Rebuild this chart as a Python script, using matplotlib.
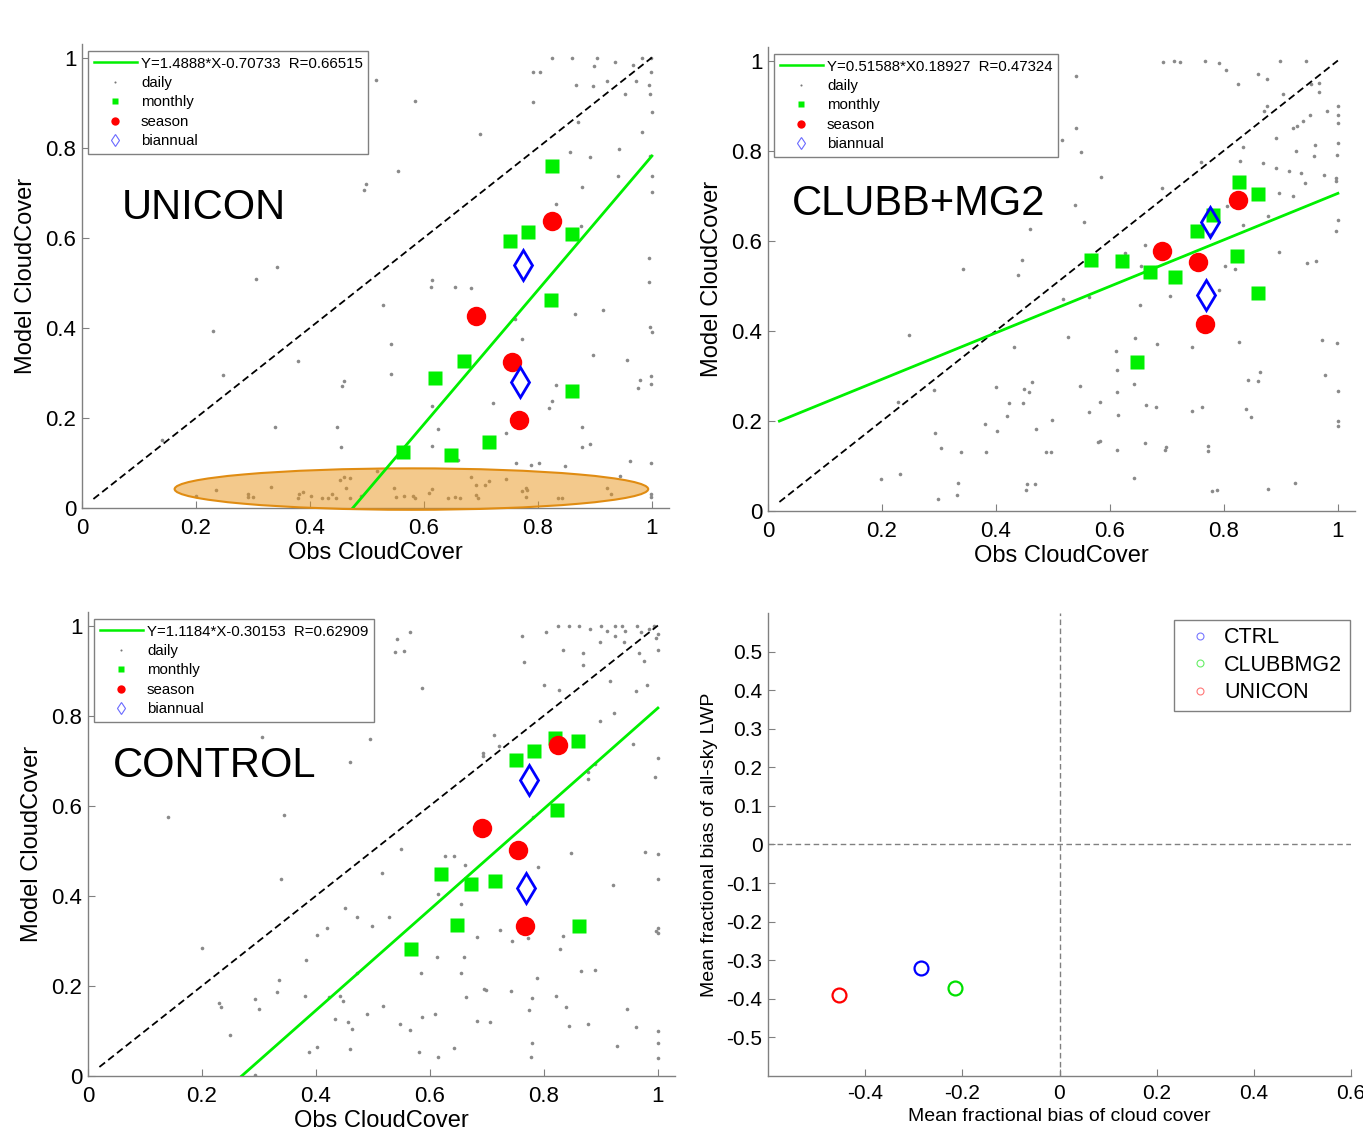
import numpy as np
import matplotlib.pyplot as plt
from matplotlib.lines import Line2D
from matplotlib.patches import Ellipse

plt.rcParams['font.family'] = ['Liberation Sans', 'DejaVu Sans']
plt.rcParams['axes.unicode_minus'] = False

LIME = '#00f000'

# ---------------- UNICON ----------------
uni_daily = [
    (0.825, 0.998), (0.86, 0.998), (0.903, 0.998), (0.935, 0.989), (0.967, 0.983), (0.982, 0.998), (0.999, 0.998),
    (0.791, 0.967), (0.804, 0.967), (0.899, 0.981), (0.999, 0.967), (0.515, 0.950), (0.867, 0.939), (0.897, 0.937),
    (0.921, 0.947), (0.972, 0.947), (0.995, 0.939), (0.953, 0.919), (0.997, 0.918), (0.585, 0.904), (0.791, 0.901),
    (1.0, 0.878), (0.871, 0.856), (0.699, 0.830), (0.982, 0.835), (0.857, 0.790), (0.891, 0.779), (0.943, 0.798),
    (0.997, 0.781), (0.555, 0.748), (0.941, 0.736), (1.0, 0.737), (0.499, 0.719), (0.494, 0.707), (0.877, 0.713),
    (1.0, 0.701), (0.832, 0.674), (0.875, 0.626), (0.995, 0.556), (0.342, 0.536), (0.305, 0.509), (0.995, 0.501),
    (0.614, 0.506), (0.613, 0.490), (0.654, 0.490), (0.683, 0.489), (0.529, 0.450), (0.865, 0.430), (0.914, 0.439),
    (0.759, 0.419), (0.229, 0.393), (0.997, 0.402), (1.0, 0.390), (0.772, 0.376), (0.542, 0.364), (0.379, 0.326),
    (0.897, 0.339), (0.957, 0.328), (0.247, 0.296), (0.542, 0.298), (0.459, 0.283), (0.456, 0.270), (0.999, 0.293),
    (0.999, 0.276), (0.979, 0.285), (0.975, 0.267), (0.832, 0.274), (0.722, 0.233), (0.825, 0.237), (0.820, 0.222),
    (0.614, 0.226), (0.744, 0.167), (0.877, 0.179), (0.625, 0.176), (0.339, 0.180), (0.447, 0.179), (0.141, 0.152),
    (0.454, 0.136), (0.614, 0.137), (0.877, 0.136), (0.891, 0.141), (0.761, 0.101), (0.787, 0.096), (0.802, 0.099),
    (0.847, 0.093), (0.962, 0.104), (0.999, 0.101), (0.944, 0.070), (0.660, 0.106),
    # 椭圆内的点
    (0.200, 0.026), (0.235, 0.039), (0.291, 0.030), (0.291, 0.024), (0.300, 0.024), (0.332, 0.046), (0.381, 0.031),
    (0.387, 0.036), (0.379, 0.022), (0.402, 0.026), (0.421, 0.022), (0.431, 0.022), (0.439, 0.032), (0.445, 0.022),
    (0.452, 0.063), (0.460, 0.068), (0.470, 0.067), (0.463, 0.044), (0.471, 0.022), (0.489, 0.026), (0.518, 0.083),
    (0.547, 0.044), (0.551, 0.024), (0.565, 0.027), (0.580, 0.026), (0.585, 0.022), (0.609, 0.033), (0.615, 0.042),
    (0.643, 0.022), (0.654, 0.024), (0.663, 0.022), (0.682, 0.068), (0.692, 0.052), (0.707, 0.050), (0.714, 0.061),
    (0.692, 0.028), (0.694, 0.022), (0.744, 0.064), (0.772, 0.037), (0.779, 0.044), (0.780, 0.039), (0.779, 0.024),
    (0.836, 0.022), (0.842, 0.022), (0.922, 0.044), (0.929, 0.030), (0.999, 0.031), (0.999, 0.024),
]
uni_monthly = [(0.825, 0.759), (0.782, 0.613), (0.751, 0.592), (0.859, 0.608), (0.823, 0.461), (0.671, 0.327),
               (0.620, 0.289), (0.860, 0.259), (0.564, 0.125), (0.647, 0.118), (0.715, 0.147)]
uni_season = [(0.825, 0.637), (0.691, 0.426), (0.755, 0.324), (0.766, 0.196)]
uni_biannual = [(0.774, 0.539), (0.768, 0.279)]
uni_fit = (1.4888, -0.70733)
uni_fit_label = 'Y=1.4888*X-0.70733  R=0.66515'

# ---------------- CLUBB+MG2 ----------------
clubb_daily = [
    (0.693, 0.996), (0.712, 0.999), (0.723, 0.996), (0.767, 0.999), (0.792, 0.995), (0.804, 0.978), (0.899, 0.999),
    (0.944, 0.999), (0.541, 0.965), (0.860, 0.971), (0.876, 0.959), (0.825, 0.947), (0.904, 0.926), (0.952, 0.948),
    (0.967, 0.950), (0.966, 0.929), (0.876, 0.900), (0.871, 0.887), (0.980, 0.889), (1.0, 0.900), (1.0, 0.878),
    (0.951, 0.878), (0.939, 0.866), (0.929, 0.855), (0.921, 0.850), (1.0, 0.861), (0.541, 0.851), (0.891, 0.829),
    (0.515, 0.824), (0.833, 0.808), (1.0, 0.818), (0.960, 0.813), (0.926, 0.800), (0.999, 0.791), (0.958, 0.787),
    (0.550, 0.797), (0.828, 0.778), (0.868, 0.772), (0.759, 0.774), (0.891, 0.762), (0.914, 0.755), (0.936, 0.751),
    (0.975, 0.746), (0.997, 0.740), (0.997, 0.733), (0.585, 0.741), (0.691, 0.716), (0.942, 0.728), (0.897, 0.707),
    (0.922, 0.699), (0.538, 0.679), (0.806, 0.677), (0.878, 0.655), (1.0, 0.647), (0.997, 0.622), (0.555, 0.642),
    (0.833, 0.635), (0.459, 0.627), (0.777, 0.615), (0.896, 0.575), (0.661, 0.590), (0.626, 0.572), (0.445, 0.558),
    (0.342, 0.538), (0.438, 0.523), (0.654, 0.544), (0.802, 0.544), (0.820, 0.537), (0.946, 0.551), (0.962, 0.555),
    (0.792, 0.491), (0.517, 0.471), (0.564, 0.474), (0.706, 0.477), (0.653, 0.458), (0.248, 0.391), (0.527, 0.386),
    (0.431, 0.365), (0.644, 0.384), (0.683, 0.371), (0.744, 0.365), (0.826, 0.375), (0.972, 0.380), (0.999, 0.373),
    (0.610, 0.356), (0.613, 0.314), (0.643, 0.281), (0.463, 0.286), (0.450, 0.271), (0.458, 0.265), (0.400, 0.275),
    (0.547, 0.277), (0.612, 0.265), (0.843, 0.291), (0.859, 0.288), (0.864, 0.308), (0.978, 0.301), (1.0, 0.267),
    (0.291, 0.269), (0.228, 0.243), (0.423, 0.240), (0.447, 0.240), (0.583, 0.243), (0.663, 0.236), (0.681, 0.230),
    (0.744, 0.223), (0.762, 0.230), (0.838, 0.226), (0.848, 0.208), (0.564, 0.219), (0.614, 0.213), (0.420, 0.210),
    (0.498, 0.203), (1.0, 0.200), (1.0, 0.189), (0.380, 0.193), (0.293, 0.174), (0.402, 0.177), (0.470, 0.182),
    (0.579, 0.154), (0.583, 0.156), (0.661, 0.152), (0.698, 0.141), (0.696, 0.136), (0.772, 0.145), (0.772, 0.134),
    (0.304, 0.140), (0.339, 0.130), (0.382, 0.130), (0.488, 0.132), (0.496, 0.132), (0.613, 0.136), (0.199, 0.071),
    (0.232, 0.082), (0.334, 0.062), (0.455, 0.061), (0.469, 0.059), (0.642, 0.074), (0.878, 0.048), (0.924, 0.062),
    (0.779, 0.045), (0.787, 0.047), (0.453, 0.046), (0.331, 0.036), (0.298, 0.026),
]
clubb_monthly = [(0.826, 0.730), (0.859, 0.703), (0.780, 0.656), (0.752, 0.621), (0.567, 0.558), (0.621, 0.555),
                 (0.671, 0.531), (0.715, 0.520), (0.823, 0.567), (0.860, 0.483), (0.647, 0.330)]
clubb_season = [(0.825, 0.690), (0.691, 0.578), (0.755, 0.553), (0.766, 0.416)]
clubb_biannual = [(0.775, 0.642), (0.769, 0.480)]
clubb_fit = (0.51588, 0.18927)
clubb_fit_label = 'Y=0.51588*X0.18927  R=0.47324'

# ---------------- CONTROL ----------------
ctrl_daily = [
    (0.825, 1.0), (0.844, 1.0), (0.861, 1.0), (0.901, 1.0), (0.924, 1.0), (0.937, 1.0), (0.964, 1.0), (0.984, 0.992),
    (0.993, 1.0), (0.804, 0.986), (0.761, 0.977), (0.881, 0.992), (0.910, 0.987), (0.942, 0.987), (0.924, 0.977),
    (0.970, 0.986), (0.997, 0.973), (1.0, 0.982), (0.565, 0.986), (0.542, 0.970), (0.539, 0.941), (0.555, 0.943),
    (0.898, 0.964), (0.940, 0.964), (0.833, 0.945), (0.868, 0.939), (0.967, 0.939), (1.0, 0.945), (0.975, 0.921),
    (0.765, 0.919), (0.869, 0.912), (0.980, 0.868), (0.916, 0.876), (0.800, 0.867), (0.827, 0.857), (0.962, 0.854),
    (0.586, 0.862), (0.923, 0.806), (0.898, 0.789), (0.712, 0.758), (0.722, 0.733), (0.693, 0.718), (0.693, 0.711),
    (0.306, 0.752), (0.495, 0.748), (0.957, 0.737), (1.0, 0.707), (0.890, 0.692), (0.877, 0.674), (0.877, 0.659),
    (0.995, 0.664), (0.460, 0.698), (0.141, 0.575), (0.344, 0.580), (0.780, 0.574), (0.550, 0.503), (0.626, 0.488),
    (0.643, 0.488), (0.662, 0.468), (0.790, 0.464), (0.847, 0.496), (0.977, 0.498), (1.0, 0.492), (1.0, 0.438),
    (0.922, 0.423), (0.515, 0.451), (0.339, 0.438), (0.614, 0.404), (0.655, 0.382), (0.451, 0.374), (0.472, 0.354),
    (0.528, 0.352), (0.499, 0.332), (0.420, 0.328), (0.401, 0.312), (0.723, 0.323), (0.683, 0.308), (0.744, 0.300),
    (0.772, 0.306), (0.833, 0.310), (0.829, 0.282), (1.0, 0.328), (0.997, 0.321), (1.0, 0.317), (0.200, 0.285),
    (0.382, 0.258), (0.613, 0.265), (0.660, 0.264), (0.584, 0.228), (0.655, 0.228), (0.788, 0.217), (0.865, 0.232),
    (0.890, 0.236), (0.472, 0.228), (0.335, 0.212), (0.332, 0.186), (0.695, 0.193), (0.699, 0.191), (0.743, 0.189),
    (0.779, 0.174), (0.821, 0.178), (0.664, 0.175), (0.380, 0.178), (0.443, 0.178), (0.447, 0.166), (0.423, 0.175),
    (0.293, 0.170), (0.300, 0.149), (0.230, 0.163), (0.234, 0.154), (0.518, 0.155), (0.774, 0.146), (0.839, 0.154),
    (0.945, 0.148), (0.433, 0.126), (0.457, 0.119), (0.489, 0.137), (0.609, 0.137), (0.586, 0.130), (0.548, 0.115),
    (0.565, 0.102), (0.463, 0.104), (0.682, 0.122), (0.706, 0.120), (0.844, 0.111), (0.877, 0.115), (0.962, 0.109),
    (1.0, 0.100), (0.249, 0.091), (0.779, 0.074), (1.0, 0.074), (0.929, 0.066), (0.388, 0.053), (0.402, 0.065),
    (0.460, 0.059), (0.580, 0.053), (0.615, 0.042), (0.642, 0.063), (0.778, 0.042), (1.0, 0.039), (0.293, 0.002),
]
ctrl_monthly = [(0.860, 0.743), (0.782, 0.721), (0.751, 0.702), (0.823, 0.590), (0.620, 0.449), (0.672, 0.427),
                (0.715, 0.432), (0.647, 0.336), (0.861, 0.334), (0.567, 0.282), (0.820, 0.750)]
ctrl_season = [(0.825, 0.735), (0.691, 0.550), (0.755, 0.501), (0.766, 0.334)]
ctrl_biannual = [(0.774, 0.657), (0.768, 0.418)]
ctrl_fit = (1.1184, -0.30153)
ctrl_fit_label = 'Y=1.1184*X-0.30153  R=0.62909'

# ---------------- 偏差散点 ----------------
bias_names = ['CTRL', 'CLUBBMG2', 'UNICON']
bias_cloud = [-0.286, -0.215, -0.454]
bias_lwp = [-0.321, -0.373, -0.391]
bias_colors = ['#0000ff', '#00e000', '#ff0000']
bias_legend_colors = ['#7777ff', '#66ee66', '#ff7777']

W, H = 1363, 1134
fig = plt.figure(figsize=(W / 100, H / 100), dpi=100)
fig.patch.set_facecolor('white')


def px_axes(left, top, right, bottom):
    return fig.add_axes([left / W, 1 - bottom / H, (right - left) / W, (bottom - top) / H])


def style_axes(ax, tick_size, xpad=7.5):
    for s in ['top', 'right']:
        ax.spines[s].set_visible(False)
    for s in ['left', 'bottom']:
        ax.spines[s].set_color('#808080')
        ax.spines[s].set_linewidth(1.0)
    ax.tick_params(direction='in', length=5, width=0.8, color='#808080',
                   labelsize=tick_size, labelcolor='black', pad=4)
    ax.tick_params(axis='x', pad=xpad)


def draw_cloud_panel(ax, daily, monthly, season, biannual, fit, fit_label, name, name_pos, ellipse=False):
    d = np.array(daily).T
    m = np.array(monthly).T
    s = np.array(season).T
    b = np.array(biannual).T

    ax.plot(d[0], d[1], ls='none', marker='o', ms=2.6, color='#8a8a8a', mec='none', zorder=2)
    ax.plot([0.02, 1], [0.02, 1], color='black', lw=1.3, ls=(0, (4, 2.2)), zorder=3)
    xl = np.array([0.02, 1.0])
    ax.plot(xl, fit[0] * xl + fit[1], color=LIME, lw=2.0, zorder=5)
    if ellipse:
        e = Ellipse((0.578, 0.042), 0.831, 0.092, facecolor=(0.91, 0.58, 0.10, 0.5),
                    edgecolor='#e08c12', lw=1.5, zorder=4, clip_on=False)
        ax.add_patch(e)
    ax.plot(m[0], m[1], ls='none', marker='s', ms=9.5, color=LIME, mec='none', zorder=6)
    ax.plot(s[0], s[1], ls='none', marker='o', ms=14, color='#ff0000', mec='none', zorder=7)
    ax.plot(b[0], b[1], ls='none', marker='d', ms=15, mfc='none', mec='#0000ff', mew=2.0, zorder=8)

    ax.set_xlim(0, 1.03)
    ax.set_ylim(0, 1.03)
    ticks = [0, 0.2, 0.4, 0.6, 0.8, 1.0]
    tlabels = ['0', '0.2', '0.4', '0.6', '0.8', '1']
    ax.set_xticks(ticks, tlabels)
    ax.set_yticks(ticks, tlabels)
    style_axes(ax, 16)
    ax.set_xlabel('Obs CloudCover', fontsize=17, labelpad=2)
    ax.set_ylabel('Model CloudCover', fontsize=17, labelpad=6)

    ax.text(name_pos[0], name_pos[1], name, fontsize=30, ha='left', va='center', zorder=10)

    handles = [
        Line2D([], [], color=LIME, lw=1.8),
        Line2D([], [], ls='none', marker='o', ms=1.5, color='#777777', mec='none'),
        Line2D([], [], ls='none', marker='s', ms=5, color=LIME, mec='none'),
        Line2D([], [], ls='none', marker='o', ms=6, color='#ff0000', mec='none'),
        Line2D([], [], ls='none', marker='d', ms=6, mfc='none', mec='#6a6aff', mew=0.8),
    ]
    labels = [fit_label, 'daily', 'monthly', 'season', 'biannual']
    leg = ax.legend(handles, labels, loc='upper left', bbox_to_anchor=(0.011, 0.984),
                    borderaxespad=0, fontsize=10.8, frameon=True, fancybox=False,
                    edgecolor='#808080', framealpha=1, handlelength=2.9, handletextpad=0.25,
                    labelspacing=0.36, borderpad=0.35)
    leg.get_frame().set_linewidth(1.0)
    leg.set_zorder(20)


ax1 = px_axes(82, 44, 669, 508)
draw_cloud_panel(ax1, uni_daily, uni_monthly, uni_season, uni_biannual, uni_fit, uni_fit_label,
                 'UNICON', (0.07, 0.667), ellipse=True)

ax2 = px_axes(768, 47, 1355, 511)
draw_cloud_panel(ax2, clubb_daily, clubb_monthly, clubb_season, clubb_biannual, clubb_fit, clubb_fit_label,
                 'CLUBB+MG2', (0.042, 0.682))

ax3 = px_axes(88, 612, 675, 1076)
draw_cloud_panel(ax3, ctrl_daily, ctrl_monthly, ctrl_season, ctrl_biannual, ctrl_fit, ctrl_fit_label,
                 'CONTROL', (0.044, 0.689))

# ---- 右下: 平均分数偏差 ----
ax4 = px_axes(768, 613, 1351, 1076)
ax4.axvline(0, color='#808080', lw=1.0, ls=(0, (4, 2.5)), zorder=1)
ax4.axhline(0, color='#808080', lw=1.0, ls=(0, (4, 2.5)), zorder=1)
for xv, yv, c in zip(bias_cloud, bias_lwp, bias_colors):
    ax4.plot(xv, yv, ls='none', marker='o', ms=10, mfc='none', mec=c, mew=1.6, zorder=3)
ax4.set_xlim(-0.6, 0.6)
ax4.set_ylim(-0.6, 0.6)
ax4.set_xticks([-0.4, -0.2, 0, 0.2, 0.4, 0.6], ['-0.4', '-0.2', '0', '0.2', '0.4', '0.6'])
yt = [0.5, 0.4, 0.3, 0.2, 0.1, 0, -0.1, -0.2, -0.3, -0.4, -0.5]
ax4.set_yticks(yt, ['0.5', '0.4', '0.3', '0.2', '0.1', '0', '-0.1', '-0.2', '-0.3', '-0.4', '-0.5'])
style_axes(ax4, 15, xpad=5.5)
ax4.set_xlabel('Mean fractional bias of cloud cover', fontsize=14, labelpad=4)
ax4.set_ylabel('Mean fractional bias of all-sky LWP', fontsize=14, labelpad=6)
h4 = [Line2D([], [], ls='none', marker='o', ms=5, mfc='none', mec=c, mew=0.8) for c in bias_legend_colors]
leg4 = ax4.legend(h4, bias_names, loc='upper right', bbox_to_anchor=(0.998, 0.985), borderaxespad=0,
                  fontsize=15.5, frameon=True, fancybox=False, edgecolor='#808080', framealpha=1,
                  handlelength=1.8, handletextpad=0.2, labelspacing=0.3, borderpad=0.35)
leg4.get_frame().set_linewidth(1.0)

fig.savefig('out.png', dpi=100, facecolor='white')
